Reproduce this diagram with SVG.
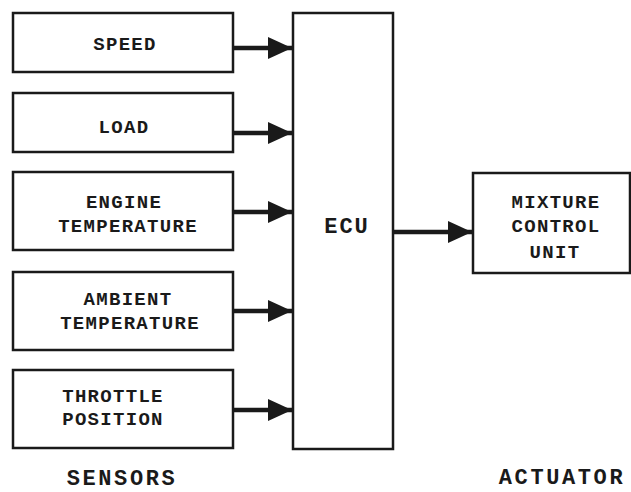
<svg xmlns="http://www.w3.org/2000/svg" width="631" height="492" viewBox="0 0 631 492">
<style>
.box{fill:#fff;stroke:#1a1a1a;stroke-width:2.5}
.t{font-family:"Liberation Mono","DejaVu Sans Mono",monospace;font-weight:bold;font-size:19px;fill:#1a1a1a;text-anchor:middle;letter-spacing:1.3px}
.e{font-size:22px;letter-spacing:2px}
.big{font-family:"Liberation Mono","DejaVu Sans Mono",monospace;font-weight:bold;font-size:22px;fill:#1a1a1a;text-anchor:middle;letter-spacing:2.6px}
.c{stroke:#1a1a1a;stroke-width:4.5;fill:none}
</style>
<defs>
<marker id="ah" markerUnits="userSpaceOnUse" markerWidth="24" markerHeight="22" refX="24" refY="11" orient="auto">
<path d="M0,0 L24,11 L0,22 Z" fill="#1a1a1a"/>
</marker>
</defs>
<rect width="631" height="492" fill="#fff"/>
<g id="speed"><rect class="box" x="13" y="13" width="220" height="59"/><text class="t" x="125" y="50">SPEED</text></g>
<g id="load"><rect class="box" x="13" y="93" width="220" height="59"/><text class="t" x="124" y="133">LOAD</text></g>
<g id="engine"><rect class="box" x="13" y="172" width="220" height="78"/><text class="t" x="124" y="208">ENGINE</text><text class="t" x="128" y="232">TEMPERATURE</text></g>
<g id="ambient"><rect class="box" x="13" y="272" width="220" height="78"/><text class="t" x="128" y="305">AMBIENT</text><text class="t" x="130" y="329">TEMPERATURE</text></g>
<g id="throttle"><rect class="box" x="13" y="370" width="220" height="78"/><text class="t" x="113" y="402">THROTTLE</text><text class="t" x="113" y="425">POSITION</text></g>
<g id="ecu"><rect class="box" x="293" y="13" width="100" height="436"/><text class="t e" x="347" y="233">ECU</text></g>
<g id="mixture"><rect class="box" x="473" y="173" width="157" height="100"/><text class="t" x="556" y="208">MIXTURE</text><text class="t" x="556" y="232">CONTROL</text><text class="t" x="555" y="258">UNIT</text></g>
<g id="connectors">
<line class="c" x1="234" y1="48" x2="292" y2="48" marker-end="url(#ah)"/>
<line class="c" x1="234" y1="133" x2="292" y2="133" marker-end="url(#ah)"/>
<line class="c" x1="234" y1="212" x2="292" y2="212" marker-end="url(#ah)"/>
<line class="c" x1="234" y1="311" x2="292" y2="311" marker-end="url(#ah)"/>
<line class="c" x1="234" y1="410" x2="292" y2="410" marker-end="url(#ah)"/>
<line class="c" x1="394" y1="232" x2="472" y2="232" marker-end="url(#ah)"/>
</g>
<text class="big" x="122" y="485">SENSORS</text>
<text class="big" x="562" y="484">ACTUATOR</text>
</svg>
